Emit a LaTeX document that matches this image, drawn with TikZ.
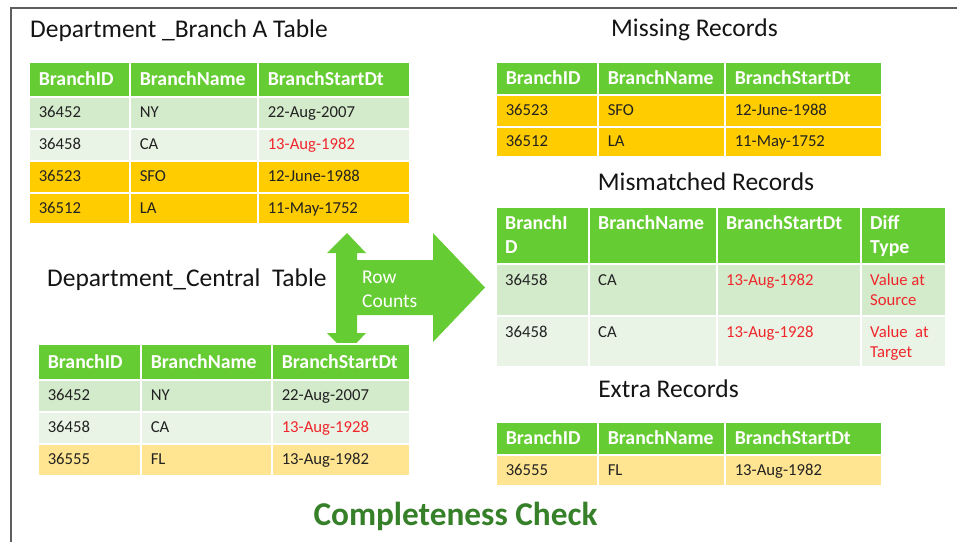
\documentclass[tikz,border=0pt]{standalone}
\usepackage{fontspec}
\setmainfont{Carlito}
\definecolor{hdrgreen}{HTML}{66CC33}
\definecolor{bandA}{HTML}{D3EACB}
\definecolor{bandB}{HTML}{E9F4E6}
\definecolor{rowgold}{HTML}{FFCC00}
\definecolor{rowcream}{HTML}{FFE591}
\definecolor{diffred}{HTML}{F0262B}
\definecolor{ink}{HTML}{222222}
\definecolor{titleink}{HTML}{141414}
\definecolor{framegray}{HTML}{5E5E5E}
\definecolor{checkgreen}{HTML}{37802A}

\newcommand\hdrfont{\fontsize{19.8}{24}\selectfont\bfseries}
\newcommand\tabbody{\fontsize{16.7}{20}\selectfont}
\newcommand\titlefont{\fontsize{25.5}{30}\selectfont}

% one table cell: name, x1, y1, x2, y2, style, text
\newcommand\cellnode[7]{%
  \pgfmathsetmacro\cw{#4-#2-20}\pgfmathsetmacro\ch{#5-#3}%
  \node[cellbox,#6,text width=\cw pt,minimum height=\ch pt] (#1) at (#2,#3) {#7};}

\tikzset{
  cellbox/.style={anchor=north west, draw=white, line width=1.5pt,
    inner xsep=10pt, inner ysep=0pt, align=left},
  hdr/.style={fill=hdrgreen, text=white, font=\hdrfont, text height=12.6pt, text depth=0pt},
  body/.style={text=ink, font=\tabbody, text height=10.4pt, text depth=0pt},
  bA/.style={body, fill=bandA},
  bB/.style={body, fill=bandB},
  bgold/.style={body, fill=rowgold},
  bcream/.style={body, fill=rowcream},
  heading/.style={text=titleink, font=\titlefont, inner sep=0pt},
  topcell/.style={anchor=north west, inner sep=0pt, align=left},
}

\begin{document}
\begin{tikzpicture}[x=1pt,y=-1pt]
\useasboundingbox (0,0) rectangle (957,542);

% slide frame
\draw[framegray, line width=1.5pt] (11,542) -- (11,8) -- (957,8);

% headings
\node[heading, anchor=base west] (ttlA) at (30,37.5) {Department \_Branch A Table};
\node[heading, anchor=base west] (ttlC) at (47,286.5) {Department\_Central\ \ Table};
\node[heading, anchor=base] (ttlMiss) at (694.5,36.7) {Missing Records};
\node[heading, anchor=base] (ttlMis) at (706,190) {Mismatched Records};
\node[heading, anchor=base] (ttlExt) at (668.5,397.3) {Extra Records};
\node[anchor=base, inner sep=0pt, text=checkgreen, font=\fontsize{33.3}{40}\selectfont\bfseries]
  (check) at (455.5,525) {Completeness Check};

% source table
\cellnode{a00}{28}{61}{129}{96}{hdr}{BranchID}
\cellnode{a01}{129}{61}{257}{96}{hdr}{BranchName}
\cellnode{a02}{257}{61}{409}{96}{hdr}{BranchStartDt}
\cellnode{a10}{28}{96}{129}{128}{bA}{36452}
\cellnode{a11}{129}{96}{257}{128}{bA}{NY}
\cellnode{a12}{257}{96}{409}{128}{bA}{22-Aug-2007}
\cellnode{a20}{28}{128}{129}{160}{bB}{36458}
\cellnode{a21}{129}{128}{257}{160}{bB}{CA}
\cellnode{a22}{257}{128}{409}{160}{bB}{\textcolor{diffred}{13-Aug-1982}}
\cellnode{a30}{28}{160}{129}{192}{bgold}{36523}
\cellnode{a31}{129}{160}{257}{192}{bgold}{SFO}
\cellnode{a32}{257}{160}{409}{192}{bgold}{12-June-1988}
\cellnode{a40}{28}{192}{129}{223}{bgold}{36512}
\cellnode{a41}{129}{192}{257}{223}{bgold}{LA}
\cellnode{a42}{257}{192}{409}{223}{bgold}{11-May-1752}

% row-count arrows
\fill[hdrgreen] (347,233) -- (366,253) -- (357,253) -- (357,260) -- (433,260) -- (433,233)
  -- (485,287.5) -- (433,342) -- (433,315) -- (357,315) -- (357,333) -- (366,333)
  -- (347,353) -- (327,333) -- (336,333) -- (336,253) -- (327,253) -- cycle;
\node[topcell, text=white, font=\fontsize{19.5}{24}\selectfont] (rc) at (362,268)
  {\rule{0pt}{15pt}Row\\Counts};

% central table
\cellnode{c00}{37}{343}{140}{379}{hdr}{BranchID}
\cellnode{c01}{140}{343}{271}{379}{hdr}{BranchName}
\cellnode{c02}{271}{343}{409}{379}{hdr}{BranchStartDt}
\cellnode{c10}{37}{379}{140}{411}{bA}{36452}
\cellnode{c11}{140}{379}{271}{411}{bA}{NY}
\cellnode{c12}{271}{379}{409}{411}{bA}{22-Aug-2007}
\cellnode{c20}{37}{411}{140}{443}{bB}{36458}
\cellnode{c21}{140}{411}{271}{443}{bB}{CA}
\cellnode{c22}{271}{411}{409}{443}{bB}{\textcolor{diffred}{13-Aug-1928}}
\cellnode{c30}{37}{443}{140}{475}{bcream}{36555}
\cellnode{c31}{140}{443}{271}{475}{bcream}{FL}
\cellnode{c32}{271}{443}{409}{475}{bcream}{13-Aug-1982}

% missing records
\cellnode{m00}{495}{61}{597}{94}{hdr}{BranchID}
\cellnode{m01}{597}{61}{724}{94}{hdr}{BranchName}
\cellnode{m02}{724}{61}{881}{94}{hdr}{BranchStartDt}
\cellnode{m10}{495}{94}{597}{126}{bgold}{36523}
\cellnode{m11}{597}{94}{724}{126}{bgold}{SFO}
\cellnode{m12}{724}{94}{881}{126}{bgold}{12-June-1988}
\cellnode{m20}{495}{126}{597}{156}{bgold}{36512}
\cellnode{m21}{597}{126}{724}{156}{bgold}{LA}
\cellnode{m22}{724}{126}{881}{156}{bgold}{11-May-1752}

% mismatched records
\cellnode{x00}{495}{206}{588}{263}{hdr}{}
\cellnode{x01}{588}{206}{716}{263}{hdr}{}
\cellnode{x02}{716}{206}{860}{263}{hdr}{}
\cellnode{x03}{860}{206}{945}{263}{hdr}{}
\cellnode{x10}{495}{263}{588}{315}{bA}{}
\cellnode{x11}{588}{263}{716}{315}{bA}{}
\cellnode{x12}{716}{263}{860}{315}{bA}{}
\cellnode{x13}{860}{263}{945}{315}{bA}{}
\cellnode{x20}{495}{315}{588}{366}{bB}{}
\cellnode{x21}{588}{315}{716}{366}{bB}{}
\cellnode{x22}{716}{315}{860}{366}{bB}{}
\cellnode{x23}{860}{315}{945}{366}{bB}{}
\foreach \c/\t in {x00/{BranchI\\D}, x01/{BranchName}, x02/{BranchStartDt}, x03/{Diff\\Type}}
  \node[topcell, text=white, font=\hdrfont] (\c t) at ([xshift=10pt]\c.north west)
    {\rule{0pt}{23pt}\t};
\foreach \c/\t/\k in {x10/{36458}/ink, x11/{CA}/ink, x12/{13-Aug-1982}/diffred,
    x13/{Value at\\Source}/diffred, x20/{36458}/ink, x21/{CA}/ink,
    x22/{13-Aug-1928}/diffred, x23/{Value\ \ at\\Target}/diffred}
  \node[topcell, text=\k, font=\tabbody] (\c t) at ([xshift=10pt]\c.north west)
    {\rule{0pt}{22.5pt}\t};

% extra records
\cellnode{e00}{495}{421}{597}{454}{hdr}{BranchID}
\cellnode{e01}{597}{421}{724}{454}{hdr}{BranchName}
\cellnode{e02}{724}{421}{881}{454}{hdr}{BranchStartDt}
\cellnode{e10}{495}{454}{597}{485}{bcream}{36555}
\cellnode{e11}{597}{454}{724}{485}{bcream}{FL}
\cellnode{e12}{724}{454}{881}{485}{bcream}{13-Aug-1982}
\end{tikzpicture}
\end{document}
